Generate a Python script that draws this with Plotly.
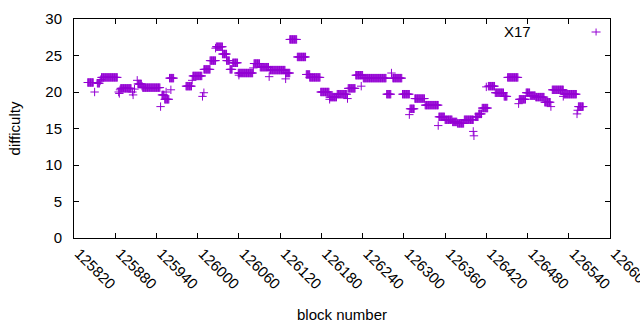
import plotly.graph_objects as go

# Runs of constant difficulty: (first block, last block, difficulty)
run_start = [125840, 125850, 125854, 125858, 125859, 125860, 125885, 125886, 125887, 125888,
             125905, 125906, 125908, 125912, 125913, 125919, 125920, 125946, 125948, 125952,
             125954, 125959, 125961, 125983, 125992, 125993, 126007, 126009, 126009, 126018,
             126026, 126027, 126036, 126042, 126047, 126051, 126059, 126060, 126081, 126082,
             126091, 126104, 126105, 126128, 126128, 126134, 126145, 126158, 126163, 126179,
             126192, 126192, 126203, 126218, 126219, 126230, 126238, 126241, 126275, 126282,
             126284, 126298, 126308, 126309, 126316, 126331, 126350, 126351, 126360, 126371,
             126378, 126388, 126401, 126402, 126404, 126409, 126414, 126420, 126423, 126433,
             126446, 126451, 126467, 126468, 126478, 126484, 126492, 126505, 126514, 126516,
             126532, 126533, 126552, 126553, 126554]
run_end = [125848, 125850, 125857, 125858, 125859, 125883, 125885, 125886, 125887, 125903,
           125905, 125906, 125908, 125912, 125918, 125919, 125945, 125946, 125951, 125958,
           125954, 125965, 125961, 125991, 125992, 126006, 126007, 126009, 126018, 126026,
           126026, 126036, 126042, 126046, 126050, 126058, 126080, 126060, 126081, 126090,
           126103, 126104, 126127, 126128, 126134, 126144, 126157, 126163, 126178, 126191,
           126202, 126192, 126217, 126218, 126229, 126240, 126238, 126274, 126281, 126282,
           126297, 126308, 126308, 126315, 126330, 126350, 126350, 126359, 126370, 126377,
           126387, 126401, 126401, 126402, 126408, 126413, 126422, 126420, 126432, 126445,
           126450, 126466, 126467, 126477, 126483, 126491, 126504, 126513, 126514, 126532,
           126532, 126551, 126552, 126553, 126561]
run_diff = [21.3, 20.0, 21.2, 21.5, 21.7, 22.0, 20.0, 19.8, 20.3, 20.5,
            20.0, 19.6, 20.4, 21.6, 21.1, 20.8, 20.6, 18.0, 19.6, 19.0,
            20.0, 21.9, 20.3, 20.8, 21.6, 22.2, 19.4, 19.9, 23.1, 24.3,
            26.0, 26.2, 25.2, 24.3, 23.1, 24.0, 22.6, 22.3, 23.3, 23.9,
            23.4, 22.1, 23.0, 21.8, 22.6, 27.2, 24.8, 22.4, 22.0, 20.0,
            19.3, 19.0, 19.7, 19.1, 20.5, 22.3, 20.8, 21.9, 19.7, 22.6,
            21.9, 19.7, 16.9, 17.7, 19.1, 18.2, 15.4, 16.6, 16.2, 15.9,
            15.7, 16.2, 14.6, 14.0, 16.6, 17.0, 17.8, 20.7, 20.8, 19.9,
            19.4, 22.0, 18.4, 19.0, 19.9, 19.5, 19.3, 18.6, 18.0, 20.3,
            19.4, 19.7, 17.0, 17.5, 18.0]

series_name = "X17"
x_ticks = list(range(125820, 126601, 60))
x_tick_labels = [str(v) for v in x_ticks]
y_ticks = [0, 5, 10, 15, 20, 25, 30]

blocks, diffs = [], []
for s, e, v in zip(run_start, run_end, run_diff):
    for b in range(s, e + 1):
        blocks.append(b)
        diffs.append(v)

color = "#9400D3"
font = dict(family="Liberation Sans, Arial, sans-serif", size=15, color="black")

fig = go.Figure()
fig.add_trace(go.Scatter(
    x=blocks, y=diffs, mode="markers", name=series_name,
    marker=dict(symbol="cross-thin-open", size=6, color=color,
                line=dict(width=1, color=color)),
    showlegend=False,
))

axis_common = dict(showline=True, linecolor="black", linewidth=1, mirror="ticks",
                   ticks="inside", ticklen=5, tickcolor="black", showgrid=False,
                   zeroline=False, automargin=False, tickfont=font)

# gnuplot-style key: label on the left, point sample on the right (paper coords)
kx, ky = 0.974, 0.9406
hw, hh = 4.5 / 536, 3.5 / 219
key_shapes = [
    dict(type="line", xref="paper", yref="paper", x0=kx - hw, x1=kx + hw, y0=ky, y1=ky,
         line=dict(color=color, width=1)),
    dict(type="line", xref="paper", yref="paper", x0=kx, x1=kx, y0=ky - hh, y1=ky + hh,
         line=dict(color=color, width=1)),
]

fig.update_layout(
    width=640, height=330,
    margin=dict(l=74, r=30, t=19, b=92),
    plot_bgcolor="white", paper_bgcolor="white",
    font=font,
    showlegend=False,
    xaxis=dict(range=[125820, 126600], tickvals=x_ticks, ticktext=x_tick_labels,
               tickangle=45, ticklabeloverflow="allow", ticklabelshift=5,
               title=dict(text="block number", font=font, standoff=18),
               **axis_common),
    yaxis=dict(range=[0, 30], tickvals=y_ticks, ticklabelstandoff=8,
               title=dict(text="difficulty", font=font, standoff=21),
               **axis_common),
    shapes=key_shapes,
    annotations=[dict(text=series_name, xref="paper", yref="paper", x=0.856, y=0.945,
                      xanchor="right", yanchor="middle", showarrow=False, font=font)],
)

fig.write_html("out.html", config={"displayModeBar": False},
               post_script="document.body.style.margin='0';")
